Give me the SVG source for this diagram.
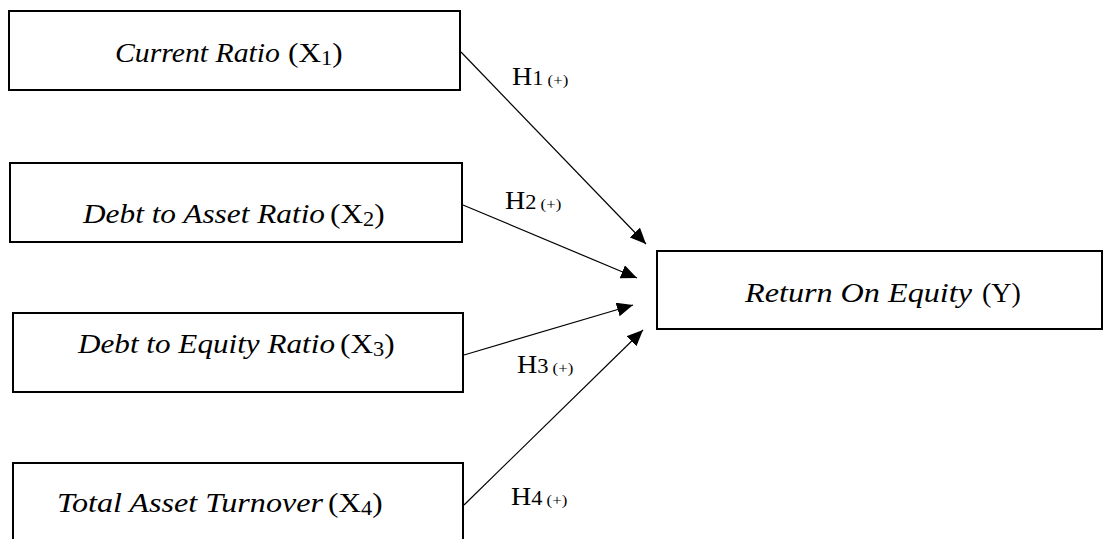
<svg xmlns="http://www.w3.org/2000/svg" width="1103" height="539" viewBox="0 0 1103 539">
<style>
.box{fill:#fff;stroke:#000;stroke-width:2}
.it{font-family:"Liberation Serif",serif;font-style:italic;font-size:28px;fill:#000}
.rg{font-family:"Liberation Serif",serif;font-size:28px;fill:#000}
.sub{font-size:20px}
.h{font-family:"Liberation Serif",serif;font-size:25px;fill:#000}
.hs{font-size:20px}
.hp{font-size:15px}
.c{stroke:#000;stroke-width:1.2;fill:none}
</style>
<defs>
<marker id="arr" markerUnits="userSpaceOnUse" markerWidth="18" markerHeight="14" refX="16" refY="7" orient="auto">
<path d="M0,0 L16,7 L0,14 Z" fill="#000"/>
</marker>
</defs>
<rect width="1103" height="539" fill="#fff"/>
<g id="connectors">
<line class="c" x1="461" y1="52" x2="646" y2="244" marker-end="url(#arr)"/>
<line class="c" x1="463" y1="205" x2="637" y2="278" marker-end="url(#arr)"/>
<line class="c" x1="464" y1="355" x2="633" y2="305" marker-end="url(#arr)"/>
<line class="c" x1="464" y1="505" x2="643" y2="330" marker-end="url(#arr)"/>
<text class="h" transform="translate(512,85) scale(1.12,1)">H<tspan class="hs">1</tspan><tspan class="hp"> (+)</tspan></text>
<text class="h" transform="translate(505,209) scale(1.12,1)">H<tspan class="hs">2</tspan><tspan class="hp"> (+)</tspan></text>
<text class="h" transform="translate(517,373) scale(1.12,1)">H<tspan class="hs">3</tspan><tspan class="hp"> (+)</tspan></text>
<text class="h" transform="translate(511,505) scale(1.12,1)">H<tspan class="hs">4</tspan><tspan class="hp"> (+)</tspan></text>
</g>
<g id="x1">
<rect class="box" x="9" y="11" width="451" height="79"/>
<text class="it" x="115" y="62" textLength="165" lengthAdjust="spacingAndGlyphs">Current Ratio</text>
<text class="rg" transform="translate(288,62) scale(1.12,1)">(X<tspan class="sub" dy="3">1</tspan><tspan dy="-3">)</tspan></text>
</g>
<g id="x2">
<rect class="box" x="10" y="163" width="452" height="79"/>
<text class="it" x="83" y="223" textLength="242" lengthAdjust="spacingAndGlyphs">Debt to Asset Ratio</text>
<text class="rg" transform="translate(330,223) scale(1.12,1)">(X<tspan class="sub" dy="3">2</tspan><tspan dy="-3">)</tspan></text>
</g>
<g id="x3">
<rect class="box" x="13" y="313" width="450" height="79"/>
<text class="it" x="78" y="353" textLength="257" lengthAdjust="spacingAndGlyphs">Debt to Equity Ratio</text>
<text class="rg" transform="translate(340,353) scale(1.12,1)">(X<tspan class="sub" dy="3">3</tspan><tspan dy="-3">)</tspan></text>
</g>
<g id="x4">
<rect class="box" x="13" y="463" width="450" height="90"/>
<text class="it" x="57" y="512" textLength="266" lengthAdjust="spacingAndGlyphs">Total Asset Turnover</text>
<text class="rg" transform="translate(328,512) scale(1.12,1)">(X<tspan class="sub" dy="3">4</tspan><tspan dy="-3">)</tspan></text>
</g>
<g id="y">
<rect class="box" x="657" y="251" width="445" height="78"/>
<text class="it" x="745" y="302" textLength="227" lengthAdjust="spacingAndGlyphs">Return On Equity</text>
<text class="rg" x="982" y="302">(Y)</text>
</g>
</svg>
